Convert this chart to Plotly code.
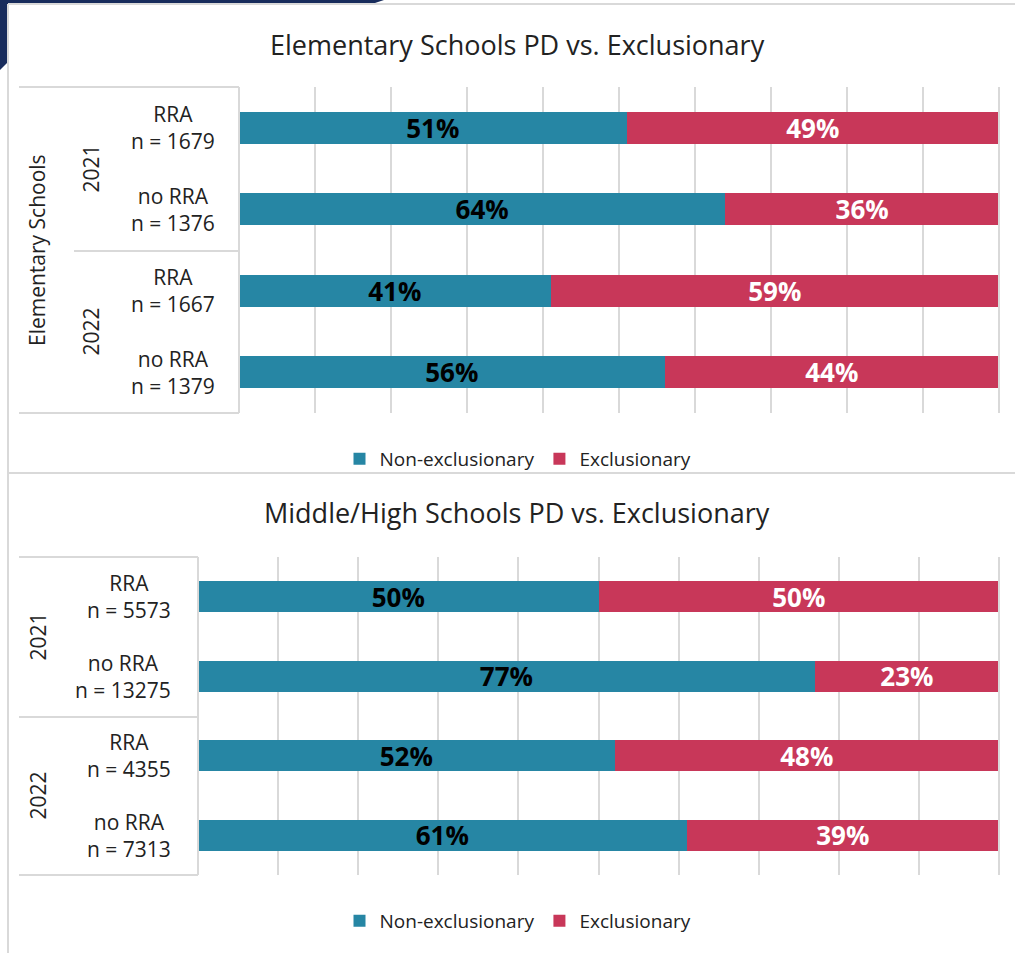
import plotly.graph_objects as go

# ---- data -------------------------------------------------------------
years = ["2021", "2021", "2022", "2022"]
groups = ["RRA", "no RRA", "RRA", "no RRA"]

elem_n = [1679, 1376, 1667, 1379]
elem_nonexcl = [51, 64, 41, 56]
elem_excl = [49, 36, 59, 44]

mh_n = [5573, 13275, 4355, 7313]
mh_nonexcl = [50, 77, 52, 61]
mh_excl = [50, 23, 48, 39]

series_names = ["Non-exclusionary", "Exclusionary"]
titles = ["Elementary Schools PD vs. Exclusionary",
          "Middle/High Schools PD vs. Exclusionary"]
school_level = "Elementary Schools"

# ---- styling ----------------------------------------------------------
W, H = 1015, 953
TEAL = "#2686A4"
RED = "#C83759"
GRID = "#D9D9D9"
NAVY = "#182C5C"
TXT = "#222222"
FONT = "Open Sans"


def px(x):
    return x / W


def py(y):
    return 1 - y / H


elem_keys = [f"{y} {g} {n}" for y, g, n in zip(years, groups, elem_n)]
mh_keys = [f"{y} {g} {n}" for y, g, n in zip(years, groups, mh_n)]

fig = go.Figure()


def add_bars(keys, nonexcl, excl, xa, ya, legend):
    for name, vals, color, tcolor in [
        (series_names[0], nonexcl, TEAL, "black"),
        (series_names[1], excl, RED, "white"),
    ]:
        fig.add_trace(go.Bar(
            name=name, x=vals, y=keys, orientation="h",
            marker=dict(color=color, line=dict(width=0)),
            texttemplate="%{x}%", textposition="inside",
            insidetextanchor="middle", constraintext="none", textangle=0,
            textfont=dict(family=FONT, size=26, color=tcolor, weight="bold"),
            xaxis=xa, yaxis=ya, legend=legend, hoverinfo="skip",
        ))


add_bars(elem_keys, elem_nonexcl, elem_excl, "x", "y", "legend")
add_bars(mh_keys, mh_nonexcl, mh_excl, "x2", "y2", "legend2")

xcommon = dict(range=[0, 100], dtick=10, tick0=0, showgrid=True,
               gridcolor=GRID, gridwidth=2, showticklabels=False,
               zeroline=False, showline=False, ticks="")
ycommon = dict(type="category", range=[3.5, -0.5], showticklabels=False,
               showgrid=False, zeroline=False, showline=False, ticks="")

legend_style = dict(orientation="h", x=px(518), xanchor="center",
                    yanchor="middle", bgcolor="rgba(0,0,0,0)",
                    font=dict(family=FONT, size=19, color=TXT),
                    itemwidth=30, traceorder="normal")

fig.update_layout(
    width=W, height=H, margin=dict(l=0, r=0, t=0, b=0),
    paper_bgcolor="white", plot_bgcolor="rgba(0,0,0,0)",
    barmode="stack", bargap=0.61, showlegend=True,
    font=dict(family=FONT, color=TXT),
    xaxis=dict(domain=[px(239), px(999)], anchor="y", **xcommon),
    yaxis=dict(domain=[py(413), py(87)], anchor="x", **ycommon),
    xaxis2=dict(domain=[px(198), px(999)], anchor="y2", **xcommon),
    yaxis2=dict(domain=[py(875), py(557)], anchor="x2", **ycommon),
    legend=dict(y=py(459), **legend_style),
    legend2=dict(y=py(921), **legend_style),
)

# ---- frame, separators and category boxes -----------------------------
shapes = []


def hline(y, x0, x1):
    shapes.append(dict(type="line", xref="paper", yref="paper",
                       x0=px(x0), x1=px(x1), y0=py(y), y1=py(y),
                       line=dict(color=GRID, width=2)))


def vline(x, y0, y1):
    shapes.append(dict(type="line", xref="paper", yref="paper",
                       x0=px(x), x1=px(x), y0=py(y0), y1=py(y1),
                       line=dict(color=GRID, width=2)))


# dark slide band in the corner
shapes.append(dict(
    type="path", xref="paper", yref="paper", layer="below",
    path=(f"M {px(0)},{py(0)} L {px(384)},{py(0)} L {px(372)},{py(4)} "
          f"L {px(8)},{py(4)} L {px(8)},{py(62)} L {px(0)},{py(70)} Z"),
    fillcolor=NAVY, line=dict(width=0)))

vline(8, 4, 953)
hline(4, 8, 1015)
hline(473, 8, 1015)

# elementary box
hline(87, 19, 239)
hline(413, 19, 239)
vline(239, 87, 413)
hline(251, 74, 239)
vline(999, 87, 413)

# middle/high box
hline(557, 19, 198)
hline(875, 19, 198)
vline(198, 557, 875)
hline(717, 19, 198)
vline(999, 557, 875)

fig.update_layout(shapes=shapes)

# ---- text -------------------------------------------------------------
ann = []
ann.append(dict(text=titles[0], xref="paper", yref="paper", x=px(517),
                y=py(44), xanchor="center", yanchor="middle",
                showarrow=False, font=dict(size=27, color=TXT)))
ann.append(dict(text=titles[1], xref="paper", yref="paper", x=px(517),
                y=py(512), xanchor="center", yanchor="middle",
                showarrow=False, font=dict(size=27, color=TXT)))

ann.append(dict(text=school_level, xref="paper", yref="paper", x=px(37),
                y=py(250), textangle=-90, xanchor="center",
                yanchor="middle", showarrow=False,
                font=dict(size=21, color=TXT)))

for keys, ns, xa, ya, right_px, year_px in [
    (elem_keys, elem_n, "x", "y", 217, 91),
    (mh_keys, mh_n, "x2", "y2", 173, 37),
]:
    yref = ya
    for k, g, n in zip(keys, groups, ns):
        ann.append(dict(text=f"{g}<br>n = {n}", xref="paper", yref=yref,
                        x=px(right_px), y=k, xanchor="right",
                        yanchor="middle", align="center", showarrow=False,
                        font=dict(size=21, color=TXT)))
    for idx, yr in [(0.5, years[0]), (2.5, years[2])]:
        ann.append(dict(text=yr, xref="paper", yref=yref, x=px(year_px),
                        y=idx, textangle=-90, xanchor="center",
                        yanchor="middle", showarrow=False,
                        font=dict(size=21, color=TXT)))

fig.update_layout(annotations=ann)

fig.write_html("out.html")
